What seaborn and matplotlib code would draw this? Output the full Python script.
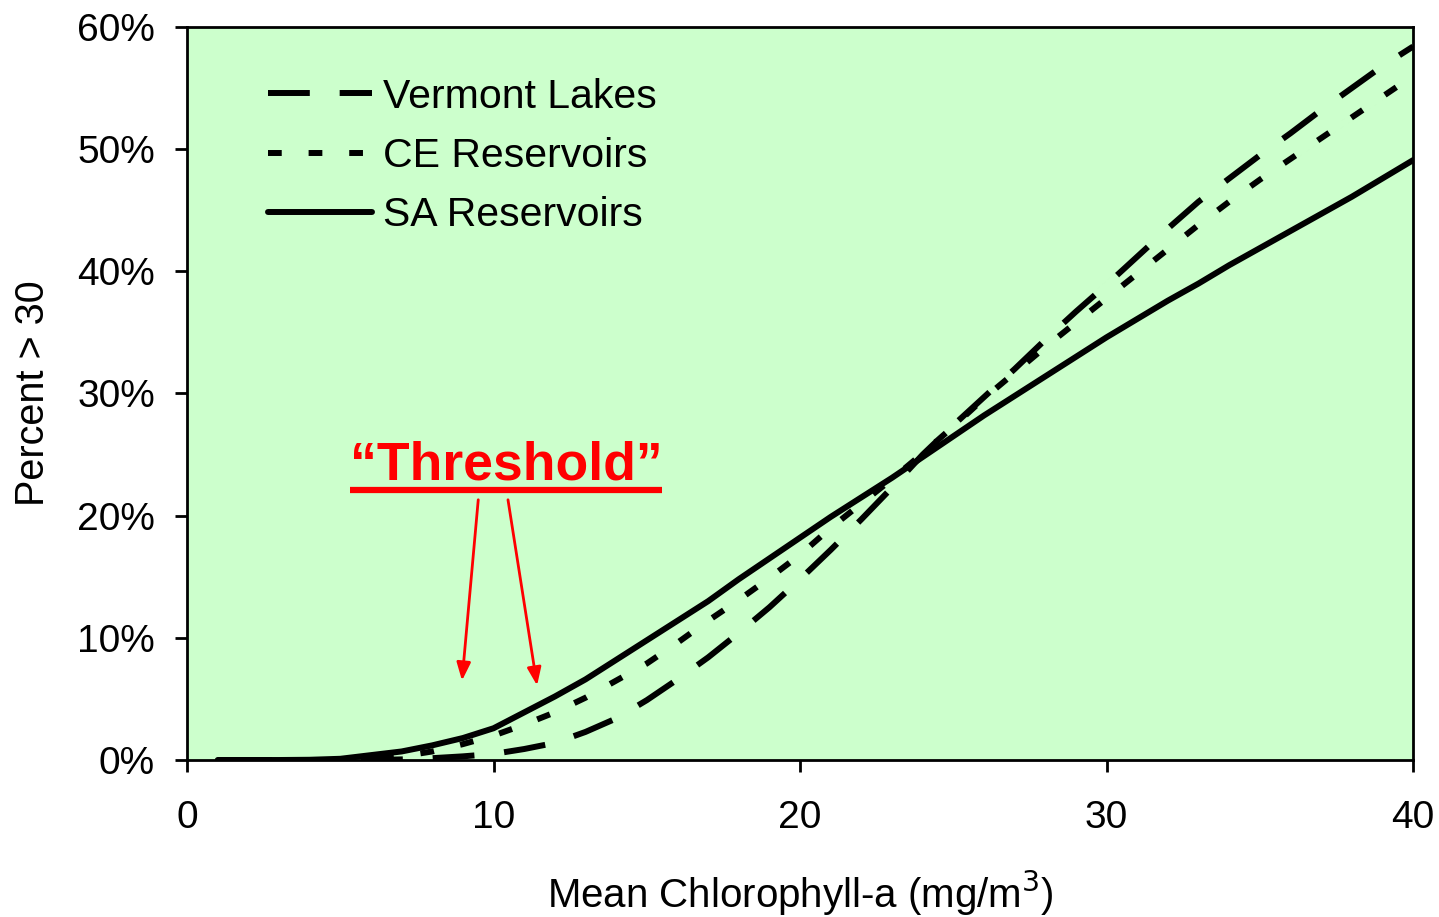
import numpy as np
import pandas as pd
import matplotlib
matplotlib.use("Agg")
import matplotlib.pyplot as plt
import seaborn as sns
from matplotlib.ticker import FuncFormatter

# Mean chlorophyll-a (mg/m3)
chl = list(range(1, 41))

# Percent of time chlorophyll-a > 30 mg/m3
vermont_lakes = [0, 0, 0, 0, 0, 0, 0.05, 0.15, 0.3, 0.5,
                 0.9, 1.4, 2.3, 3.4, 4.9, 6.6, 8.4, 10.4, 12.5, 14.8,
                 17.2, 19.7, 22.3, 25.0, 27.4, 29.7, 32.0, 34.4, 36.7, 38.9,
                 41.2, 43.5, 45.7, 47.6, 49.5, 51.3, 53.2, 55.0, 56.8, 58.4]
ce_reservoirs = [0, 0, 0, 0, 0, 0.1, 0.3, 0.7, 1.3, 2.0,
                 2.9, 3.9, 5.1, 6.5, 7.9, 9.6, 11.4, 13.1, 14.9, 16.8,
                 19.0, 21.0, 23.0, 25.1, 27.3, 29.6, 31.7, 33.8, 35.8, 37.8,
                 39.8, 41.8, 43.8, 45.7, 47.5, 49.2, 50.9, 52.6, 54.3, 56.0]
sa_reservoirs = [0, 0, 0, 0.02, 0.1, 0.4, 0.7, 1.2, 1.8, 2.6,
                 3.9, 5.2, 6.6, 8.2, 9.8, 11.4, 13.0, 14.8, 16.5, 18.2,
                 19.9, 21.5, 23.1, 24.8, 26.5, 28.2, 29.8, 31.4, 33.0, 34.6,
                 36.1, 37.6, 39.0, 40.5, 41.9, 43.3, 44.7, 46.1, 47.6, 49.1]

series_names = ["Vermont Lakes", "CE Reservoirs", "SA Reservoirs"]
x_ticks = [0, 10, 20, 30, 40]
y_ticks = [0, 10, 20, 30, 40, 50, 60]

sns.set_theme(style="ticks")
plt.rcParams["font.family"] = ["Liberation Sans", "DejaVu Sans"]
for key in ["text.color", "axes.labelcolor", "xtick.color", "ytick.color",
            "axes.edgecolor"]:
    plt.rcParams[key] = "black"

fig = plt.figure(figsize=(14.39, 9.17), dpi=100)
ax = fig.add_axes([0.130, 0.1712, 0.852, 0.7994])
ax.set_facecolor("#ccffcc")

lw = 4.3
styles = {
    "Vermont Lakes": (0, (7.0, 5.0)),
    "CE Reservoirs": (0, (2.3, 4.5)),
    "SA Reservoirs": "-",
}
for name, vals in zip(series_names, [vermont_lakes, ce_reservoirs, sa_reservoirs]):
    df = pd.DataFrame({"chl": chl, "pct": vals})
    sns.lineplot(data=df, x="chl", y="pct", ax=ax, color="black",
                 linewidth=lw, linestyle=styles[name], label=name)

ax.set_xlim(0, 40)
ax.set_ylim(0, 60)
ax.set_xticks(x_ticks)
ax.set_yticks(y_ticks)
ax.yaxis.set_major_formatter(FuncFormatter(lambda v, _: f"{v:.0f}%"))
ax.tick_params(axis="both", direction="out", length=8.6, width=2,
               labelsize=28, color="black", labelcolor="black")
ax.tick_params(axis="x", pad=20)
ax.tick_params(axis="y", pad=14.5)
for sp in ax.spines.values():
    sp.set_linewidth(2)
    sp.set_color("black")

ax.set_xlabel("Mean Chlorophyll-a (mg/m$^3$)", fontsize=29)
ax.set_ylabel("Percent > 30", fontsize=28.5)
ax.xaxis.label.set_va("center")
ax.yaxis.label.set_va("center")
ax.xaxis.set_label_coords(0.5, -0.1814)
ax.yaxis.set_label_coords(-0.1256, 0.5)

leg = ax.legend(loc="upper left", bbox_to_anchor=(0.0525, 0.953), frameon=False,
                fontsize=29.5, handlelength=2.55, handletextpad=0.25,
                labelspacing=0.52, borderaxespad=0)

# Threshold callout
ax.text(10.4, 24.1, "\u201cThreshold\u201d", color="red", fontsize=38.5,
        fontweight="bold", ha="center", va="center")
ax.plot([5.3, 15.5], [22.1, 22.1], color="red", linewidth=4.5,
        solid_capstyle="butt")
arrow_props = dict(arrowstyle="-|>,head_length=0.9,head_width=0.35",
                   color="red", lw=2, shrinkA=0, shrinkB=0)
ax.annotate("", xy=(8.97, 6.5), xytext=(9.5, 21.3), arrowprops=arrow_props)
ax.annotate("", xy=(11.42, 6.1), xytext=(10.47, 21.3), arrowprops=arrow_props)

fig.savefig("out.png", dpi=100, facecolor="white")
